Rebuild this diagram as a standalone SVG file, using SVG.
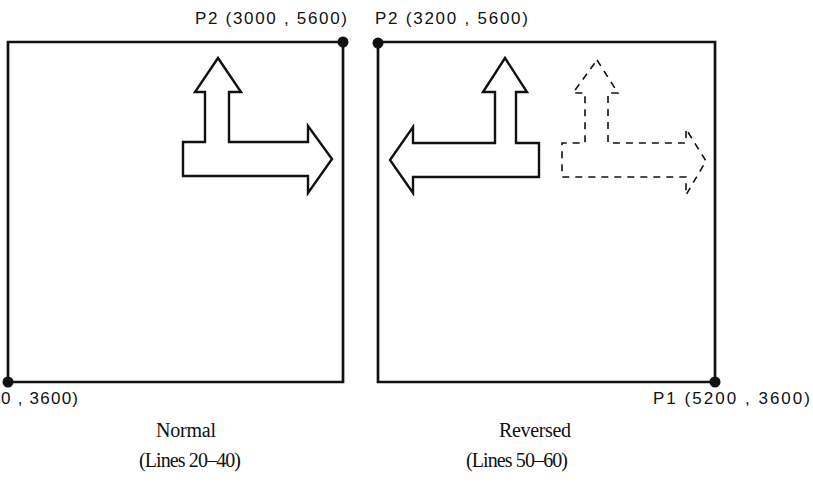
<svg xmlns="http://www.w3.org/2000/svg" width="813" height="495" viewBox="0 0 813 495">
<style>
.frame{fill:none;stroke:#111;stroke-width:2.7;stroke-linejoin:miter}
.dot{fill:#111}
.arrow{fill:#fff;stroke:#111;stroke-width:2.4;stroke-linejoin:miter}
.ghost{fill:none;stroke:#111;stroke-width:1.6;stroke-dasharray:7 6}
.coord{font-family:"Liberation Sans",Arial,sans-serif;font-size:17px;fill:#111}
.cap{font-family:"Liberation Serif","DejaVu Serif",serif;font-size:20px;fill:#111}
</style>
<rect width="813" height="495" fill="#fff"/>
<g id="normal">
  <polyline class="frame" points="343,42 8,42 8,382 343,382 343,42"/>
  <circle class="dot" cx="343" cy="42" r="5.5"/>
  <circle class="dot" cx="8" cy="382" r="5.5"/>
  <polygon class="arrow" points="218,58 241,92 229,92 229,142 308,142 308,126 332,159 308,193 308,176 183,176 183,142 205,142 205,92 195,92"/>
  <text class="coord" x="195" y="24" textLength="152">P2 (3000 , 5600)</text>
  <text class="coord" x="1" y="404" textLength="77">0 , 3600)</text>
  <text class="cap" x="156" y="437" textLength="60">Normal</text>
  <text class="cap" x="139" y="467" textLength="102">(Lines 20–40)</text>
</g>
<g id="reversed">
  <polyline class="frame" points="378,42 715,42 715,382 378,382 378,42"/>
  <circle class="dot" cx="378" cy="43" r="5.5"/>
  <circle class="dot" cx="715" cy="382" r="5.5"/>
  <polygon class="arrow" points="505,58 527,92 516,92 516,143 539,143 539,177 413,177 413,193 390,160 413,127 413,143 495,143 495,92 483,92"/>
  <polygon class="ghost" points="597,60 618,93 608,93 608,143 686,143 686,129 706,161 686,195 686,177 562,177 562,143 585,143 585,93 573,93"/>
  <text class="coord" x="375" y="24" textLength="153">P2 (3200 , 5600)</text>
  <text class="coord" x="653" y="404" textLength="157">P1 (5200 , 3600)</text>
  <text class="cap" x="499" y="437" textLength="72">Reversed</text>
  <text class="cap" x="466" y="467" textLength="102">(Lines 50–60)</text>
</g>
</svg>
